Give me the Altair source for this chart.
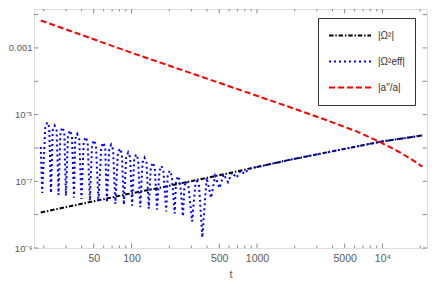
import altair as alt
import pandas as pd

# ---------------- data ----------------
names = ["|Ω²|", "|Ω²eff|", "|a″/a|"]
colors = ["#000000", "#0000ff", "#ff0000"]
dashes = [[4.5, 1.8, 1.5, 1.8], [2, 3], [6, 3]]

# |Omega^2|  (black, dash-dot)
black_t = [18.9, 97, 168, 604, 1811, 9420, 20800]
black_v = [1.16e-8, 4.28e-8, 6.4e-8, 1.77e-7, 4.39e-7, 1.51e-6, 2.38e-6]

# |Omega_eff^2|  (blue, dotted): shoulders, peaks and troughs of the oscillation
blue_t = [18.9, 19.4,
          20.54, 21.3, 22.09, 22.8,
          23.53, 24.4, 25.30, 26.2,
          27.10, 28.1, 29.14, 30.0,
          31.15, 32.3, 33.50, 34.8,
          35.58, 36.9, 38.27, 39.9,
          41.56, 43.1, 44.69, 46.6,
          48.41, 50.2, 52.06, 54.5,
          57.38, 59.5, 61.70, 63.6,
          66.35, 68.8, 71.35, 74.3,
          77.82, 80.7, 83.69, 86.9,
          90.65, 94.0, 97.48, 101.1,
          104.9, 108.8, 112.8, 117.5,
          122.4, 126.9, 131.6, 137.3,
          142.4, 147.7, 153.2, 159.8,
          167.0, 173.2, 179.6, 189.1,
          194.4, 201.6, 209.1, 220.9,
          226.2, 234.6, 243.3, 257.2,
          263.8, 273.6, 283.7, 304.2,
          321.5, 333.4, 345.7, 366.7,
          396.8, 430.9, 463.7, 503.4, 541.6, 588.2, 632.9, 687.1, 739.3, 795.4,
          860, 1811, 9420, 20800]
blue_v = [1.08e-6, 4.49e-8,
          4.18e-6, 5.85e-6, 4.18e-6, 4.49e-8,
          3.34e-6, 4.68e-6, 3.34e-6, 3.92e-8,
          2.98e-6, 4.17e-6, 2.98e-6, 3.67e-8,
          2.39e-6, 3.34e-6, 2.39e-6, 3.20e-8,
          1.89e-6, 2.65e-6, 1.89e-6, 2.93e-8,
          1.51e-6, 2.12e-6, 1.51e-6, 2.61e-8,
          1.21e-6, 1.70e-6, 1.21e-6, 2.53e-8,
          1.03e-6, 1.44e-6, 1.03e-6, 2.33e-8,
          9.0e-7, 1.26e-6, 9.0e-7, 2.09e-8,
          6.87e-7, 9.62e-7, 6.87e-7, 1.99e-8,
          5.24e-7, 7.34e-7, 5.24e-7, 1.86e-8,
          4.58e-7, 6.41e-7, 4.58e-7, 1.68e-8,
          3.66e-7, 5.13e-7, 3.66e-7, 1.52e-8,
          2.61e-7, 3.65e-7, 2.61e-7, 1.42e-8,
          2.06e-7, 2.88e-7, 2.06e-7, 1.24e-8,
          1.49e-7, 2.08e-7, 1.49e-7, 1.08e-8,
          1.01e-7, 1.42e-7, 1.01e-7, 8.86e-9,
          7.2e-8, 1.01e-7, 7.2e-8, 6.32e-9,
          7.2e-8, 1.01e-7, 7.2e-8, 2.07e-9,
          1.28e-7, 3.20e-8, 1.45e-7, 6.30e-8, 1.63e-7, 9.45e-8, 1.85e-7, 1.28e-7, 2.10e-7, 1.68e-7,
          2.37e-7, 4.39e-7, 1.51e-6, 2.38e-6]

# |a''/a|  (red, dashed)
red_t = [18.9, 100, 650, 1811, 3334, 6150, 9420, 13600, 17300, 20800]
red_v = [6.65e-3, 7.18e-4, 6.4e-5, 1.69e-5, 7.54e-6, 3.2e-6, 1.55e-6, 7.57e-7, 4.40e-7, 2.75e-7]

# axis ticks
x_label_vals = [50, 100, 500, 1000, 5000, 10000]
x_label_text = ["50", "100", "500", "1000", "5000", "10⁴"]
x_minor = [20, 30, 40, 60, 70, 80, 90, 200, 300, 400, 600, 700, 800, 900,
           2000, 3000, 4000, 6000, 7000, 8000, 9000, 20000]
y_label_vals = [1e-3, 1e-5, 1e-7, 1e-9]
y_label_text = ["0.001", "10⁻⁵", "10⁻⁷", "10⁻⁹"]
y_minor = [1e-2, 1e-4, 1e-6, 1e-8]

# ---------------- styling ----------------
W, H = 393, 239
FONT = "Liberation Sans"
frame_col = "#8c8c8c"
label_col = "#5a5a5a"
MAJ, MIN = 4.5, 2.5


def label_expr(vals, texts):
    expr = "''"
    for v, s in zip(reversed(vals), reversed(texts)):
        expr = f"abs(datum.value - {v!r}) < {v!r} * 1e-6 ? '{s}' : " + expr
    return expr


xscale = alt.Scale(type="log", domain=[16.7, 22660], nice=False)
yscale = alt.Scale(type="log", domain=[1e-9, 0.0147], nice=False)

xaxis = alt.Axis(values=x_label_vals, labelExpr=label_expr(x_label_vals, x_label_text),
                 ticks=False, tickSize=0, domain=False, grid=False, title="t",
                 labelFont=FONT, labelFontSize=10.5, labelColor=label_col, labelPadding=5,
                 labelFlush=False, labelOverlap=False,
                 titleFont=FONT, titleFontSize=11, titleFontWeight="normal",
                 titleColor=label_col, titlePadding=5)
yaxis = alt.Axis(values=y_label_vals, labelExpr=label_expr(y_label_vals, y_label_text),
                 ticks=False, tickSize=0, domain=False, grid=False, title=None,
                 labelFont=FONT, labelFontSize=9.5, labelColor=label_col, labelPadding=2,
                 labelFlush=False, labelOverlap=False)

cscale = alt.Scale(domain=names, range=colors)
dscale = alt.Scale(domain=names, range=dashes)
legend = alt.Legend(title=None, orient="none", legendX=284, legendY=9,
                    symbolType="stroke", symbolSize=1764, symbolStrokeWidth=2,
                    clipHeight=15, rowPadding=11, labelOffset=6, padding=10,
                    strokeColor="#333333", fillColor="white",
                    labelFont=FONT, labelFontSize=10, labelColor="#333333")


def series_layer(t, v, name):
    d = pd.DataFrame({"t": t, "v": v, "s": name})
    return alt.Chart(d).mark_line(strokeWidth=2, clip=True).encode(
        x=alt.X("t:Q", scale=xscale, axis=xaxis),
        y=alt.Y("v:Q", scale=yscale, axis=yaxis),
        color=alt.Color("s:N", scale=cscale, legend=legend),
        strokeDash=alt.StrokeDash("s:N", scale=dscale, legend=legend),
    )


def x_ticks(vals, L):
    d = pd.DataFrame({"t": vals})
    base = alt.Chart(d).mark_rule(color=frame_col, strokeWidth=1)
    xe = alt.X("t:Q", scale=xscale, axis=xaxis)
    return [base.encode(x=xe, y=alt.value(H), y2=alt.value(H - L)),
            base.encode(x=xe, y=alt.value(0), y2=alt.value(L))]


def y_ticks(vals, L):
    d = pd.DataFrame({"v": vals})
    base = alt.Chart(d).mark_rule(color=frame_col, strokeWidth=1)
    ye = alt.Y("v:Q", scale=yscale, axis=yaxis)
    return [base.encode(y=ye, x=alt.value(0), x2=alt.value(L)),
            base.encode(y=ye, x=alt.value(W), x2=alt.value(W - L))]


layers = (x_ticks(x_label_vals, MAJ) + x_ticks(x_minor, MIN)
          + y_ticks(y_label_vals, MAJ) + y_ticks(y_minor, MAJ)
          + [series_layer(black_t, black_v, names[0]),
             series_layer(blue_t, blue_v, names[1]),
             series_layer(red_t, red_v, names[2])])

chart = alt.layer(*layers).properties(
    width=W, height=H,
    autosize=alt.AutoSizeParams(type="none"),
    padding={"left": 26, "top": 1, "right": 1, "bottom": 32},
).configure_view(stroke=frame_col, strokeWidth=1).configure(background="white")

chart.save("out.html", embed_options={"renderer": "svg", "actions": False})
